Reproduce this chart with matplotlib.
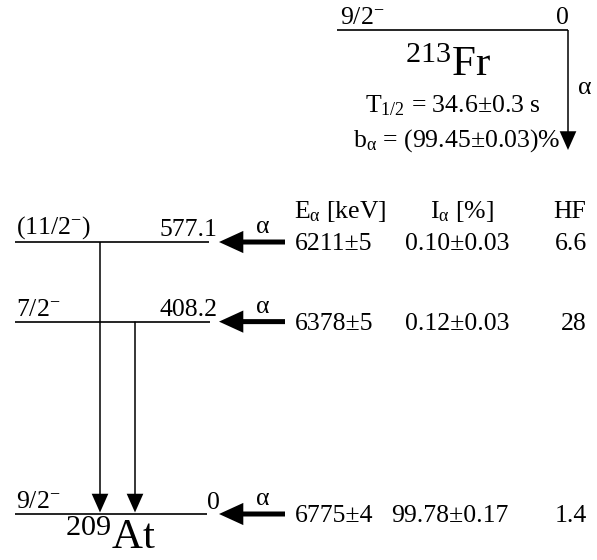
import matplotlib
matplotlib.use("Agg")
import matplotlib.pyplot as plt

plt.rcParams['font.family'] = ['Liberation Serif', 'DejaVu Serif']
plt.rcParams['mathtext.fontset'] = 'custom'
plt.rcParams['mathtext.rm'] = 'Liberation Serif'
plt.rcParams['mathtext.it'] = 'Liberation Serif:italic'
plt.rcParams['mathtext.bf'] = 'Liberation Serif:bold'

# ---- data ----
parent_label = r'$^{213}$Fr'
parent_spin = r'9/2$^{-}$'
parent_energy = '0'
half_life = r'T$_{\mathrm{1/2}}$ = 34.6±0.3 s'
branching = r'b$_{\mathrm{α}}$ = (99.45±0.03)%'

daughter_label = r'$^{209}$At'
level_energies = [577.1, 408.2, 0.0]
level_energy_labels = ['577.1', '408.2', '0']
level_spins = [r'(11/2$^{-}$)', r'7/2$^{-}$', r'9/2$^{-}$']

alpha_energies = ['6211±5', '6378±5', '6775±4']
alpha_intensities = ['0.10±0.03', '0.12±0.03', '99.78±0.17']
hindrance = ['6.6', '28', '1.4']
column_headers = [r'E$_{\mathrm{α}}$ [keV]', r'I$_{\mathrm{α}}$ [%]', 'HF']

gamma_from = [577.1, 408.2]
gamma_to = [0.0, 0.0]

# ---- layout ----
W, H = 597, 560
SCALE = 0.4713  # px per keV
Y0 = 514        # pixel row of ground state


def Y(p):
    """convert a pixel row to the energy axis (layout helper)"""
    return (Y0 - p) / SCALE


fig = plt.figure(figsize=(W / 100, H / 100), dpi=100)
ax = fig.add_axes([0, 0, 1, 1])
ax.set_xlim(0, W)
ax.set_ylim(Y(H), Y(0))
ax.axis('off')

FS = 18.5
BIG = 31
lw = 1.2
thin_arrow = 'simple,head_length=1.35,head_width=1.2,tail_width=0.11'
thick_arrow = 'simple,head_length=1.75,head_width=1.6,tail_width=0.36'


def arrow(x0, y0, x1, y1, style):
    ax.annotate('', xy=(x1, y1), xytext=(x0, y0),
                arrowprops=dict(arrowstyle=style, color='black', lw=0,
                                shrinkA=0, shrinkB=0, mutation_scale=10))


# parent level
yp = Y(30)
ax.plot([337, 568], [yp, yp], color='black', lw=lw, solid_capstyle='butt')
ax.text(340, yp + 1.0 / SCALE, parent_spin, fontsize=FS, ha='left', va='bottom')
ax.text(569, yp + 1.0 / SCALE, parent_energy, fontsize=FS, ha='right', va='bottom')
ax.text(448, Y(76), parent_label, fontsize=BIG, ha='center', va='baseline')
ax.text(453, Y(106), half_life, fontsize=FS, ha='center', va='center')
ax.text(457, Y(141), branching, fontsize=FS, ha='center', va='center')
arrow(568, yp, 568, Y(150), thin_arrow)
ax.text(585, Y(88), 'α', fontsize=FS, ha='center', va='center')

# daughter levels
level_x_end = [209, 210, 207]
for E, elab, spin, xe in zip(level_energies, level_energy_labels, level_spins, level_x_end):
    ax.plot([15, xe], [E, E], color='black', lw=lw, solid_capstyle='butt')
    ax.text(16, E + 1.0 / SCALE, spin, fontsize=FS, ha='left', va='bottom')
    if E == 0:
        ax.text(xe, E, elab, fontsize=FS, ha='left', va='bottom')
    else:
        ax.text(217, E + 1.0 / SCALE, elab, fontsize=FS, ha='right', va='bottom')

ax.text(111, Y(549), daughter_label, fontsize=BIG, ha='center', va='baseline')

# gamma transitions
gamma_x = [100, 135]
for x, Ei, Ef in zip(gamma_x, gamma_from, gamma_to):
    arrow(x, Ei, x, Ef + 1.5 / SCALE, thin_arrow)

# alpha feeding arrows
alpha_tip = [219, 219, 219]
for E, tip in zip(level_energies, alpha_tip):
    arrow(tip + 66, E, tip, E, thick_arrow)
    ax.text(tip + 44, E + 15 / SCALE, 'α', fontsize=FS, ha='center', va='center')

# table
ax.text(294, Y(212), column_headers[0], fontsize=FS, ha='left', va='center')
ax.text(462, Y(212), column_headers[1], fontsize=FS, ha='center', va='center')
ax.text(570, Y(212), column_headers[2], fontsize=FS, ha='center', va='center')
for E, ea, ia, hf in zip(level_energies, alpha_energies, alpha_intensities, hindrance):
    yr = E - 2 / SCALE
    ax.text(295, yr, ea, fontsize=FS, ha='left', va='center')
    ax.text(509, yr, ia, fontsize=FS, ha='right', va='center')
    ax.text(587, yr, hf, fontsize=FS, ha='right', va='center')

fig.savefig('out.png', dpi=100)
